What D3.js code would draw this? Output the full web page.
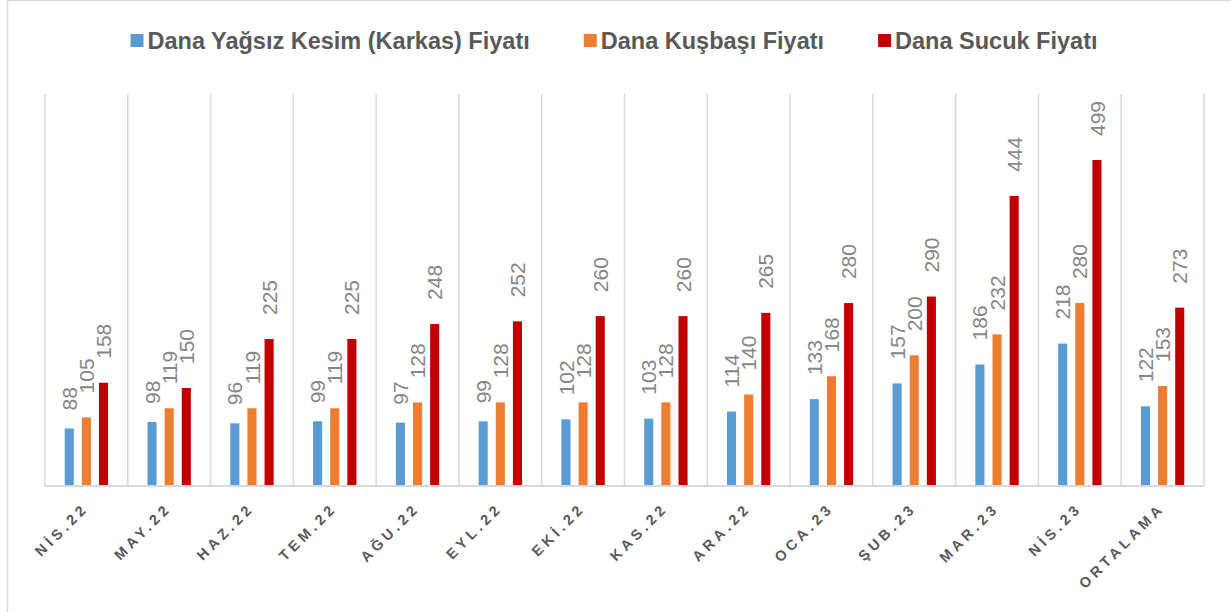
<!DOCTYPE html>
<html>
<head>
<meta charset="utf-8">
<script src="https://cdn.jsdelivr.net/npm/d3@7/dist/d3.min.js"></script>
<style>
  body { margin: 0; background: #fff; }
  svg { display: block; }
</style>
</head>
<body>
<div id="chart"></div>
<script>
var months = ["NİS.22", "MAY.22", "HAZ.22", "TEM.22", "AĞU.22", "EYL.22", "EKİ.22",
              "KAS.22", "ARA.22", "OCA.23", "ŞUB.23", "MAR.23", "NİS.23", "ORTALAMA"];
var seriesNames = ["Dana Yağsız Kesim (Karkas) Fiyatı", "Dana Kuşbaşı Fiyatı", "Dana Sucuk Fiyatı"];
var karkas = [88, 98, 96, 99, 97, 99, 102, 103, 114, 133, 157, 186, 218, 122];
var kusbasi = [105, 119, 119, 119, 128, 128, 128, 128, 140, 168, 200, 232, 280, 153];
var sucuk = [158, 150, 225, 225, 248, 252, 260, 260, 265, 280, 290, 444, 499, 273];
var colors = ["#5B9BD5", "#ED7D31", "#C00000"];

var width = 1231, height = 612;
var plot = {left: 45, right: 1204, top: 94, bottom: 486};

var allSeries = [karkas, kusbasi, sucuk];
var rows = months.map(function(m, i){
  return {month: m, values: allSeries.map(function(s, j){ return {key: j, value: s[i]}; })};
});

var svg = d3.select("#chart").append("svg")
  .attr("width", width)
  .attr("height", height);

// outer frame
svg.append("rect")
  .attr("x", 7.5).attr("y", 0.5)
  .attr("width", 1400).attr("height", 800)
  .attr("fill", "none")
  .attr("stroke", "#d9d9d9")
  .attr("stroke-width", 1.5);

var x0 = d3.scaleBand()
  .domain(months)
  .range([plot.left, plot.right])
  .padding(0);

var x1 = d3.scaleBand()
  .domain([0, 1, 2])
  .range([0, x0.bandwidth()])
  .paddingInner(0.47)
  .paddingOuter(1.15);

var y = d3.scaleLinear()
  .domain([0, 600])
  .range([plot.bottom, plot.top]);

// vertical gridlines at category boundaries
var bounds = months.map(function(m){ return x0(m); }).concat([plot.right]);
svg.append("g").selectAll("line")
  .data(bounds)
  .enter().append("line")
    .attr("x1", function(d){ return d; })
    .attr("x2", function(d){ return d; })
    .attr("y1", plot.top)
    .attr("y2", plot.bottom)
    .attr("stroke", "#d9d9d9")
    .attr("stroke-width", 1.5);

// bars
var groups = svg.append("g").selectAll("g")
  .data(rows)
  .enter().append("g")
    .attr("transform", function(d){ return "translate(" + x0(d.month) + ",0)"; });

groups.selectAll("rect")
  .data(function(d){ return d.values; })
  .enter().append("rect")
    .attr("x", function(d){ return x1(d.key); })
    .attr("width", x1.bandwidth())
    .attr("y", function(d){ return y(d.value); })
    .attr("height", function(d){ return y(0) - y(d.value); })
    .attr("fill", function(d){ return colors[d.key]; });

// value labels, rotated
groups.selectAll("text")
  .data(function(d){ return d.values; })
  .enter().append("text")
    .attr("transform", function(d){
      var cx = x1(d.key) + x1.bandwidth() / 2;
      var gap = 6 + 6 * String(d.value).length;
      return "translate(" + cx + "," + (y(d.value) - gap) + ") rotate(-90)";
    })
    .attr("dy", "0.36em")
    .attr("font-family", "'Liberation Sans', Arial, sans-serif")
    .attr("font-size", 21)
    .attr("fill", "#878787")
    .text(function(d){ return d.value; });

// x axis line
svg.append("line")
  .attr("x1", plot.left).attr("x2", plot.right)
  .attr("y1", plot.bottom).attr("y2", plot.bottom)
  .attr("stroke", "#d9d9d9")
  .attr("stroke-width", 2);

// category labels
svg.append("g").selectAll("text")
  .data(months)
  .enter().append("text")
    .attr("transform", function(d){
      return "translate(" + (x0(d) + x0.bandwidth() / 2 + 3) + "," + 509 + ") rotate(-45)";
    })
    .attr("text-anchor", "end")
    .attr("font-family", "'Liberation Sans', Arial, sans-serif")
    .attr("font-weight", "bold")
    .attr("font-size", 14.5)
    .attr("letter-spacing", 4)
    .attr("fill", "#595959")
    .text(function(d){ return d; });

// legend
var legend = svg.append("g");
var items = legend.selectAll("g")
  .data(seriesNames)
  .enter().append("g");

items.append("rect")
  .attr("width", 13).attr("height", 13)
  .attr("y", 34)
  .attr("fill", function(d, i){ return colors[i]; });

items.append("text")
  .attr("x", 17)
  .attr("y", 48.5)
  .attr("font-family", "'Liberation Sans', Arial, sans-serif")
  .attr("font-weight", "bold")
  .attr("font-size", 23.5)
  .attr("fill", "#595959")
  .text(function(d){ return d; });

// place legend items side by side, centred
var widths = [];
items.each(function(){ widths.push(this.getBBox().width); });
var gap = 54;
var total = d3.sum(widths) + gap * (widths.length - 1);
var pos = 614 - total / 2;
items.attr("transform", function(d, i){
  var t = "translate(" + pos + ",0)";
  pos += widths[i] + gap;
  return t;
});
</script>
</body>
</html>
